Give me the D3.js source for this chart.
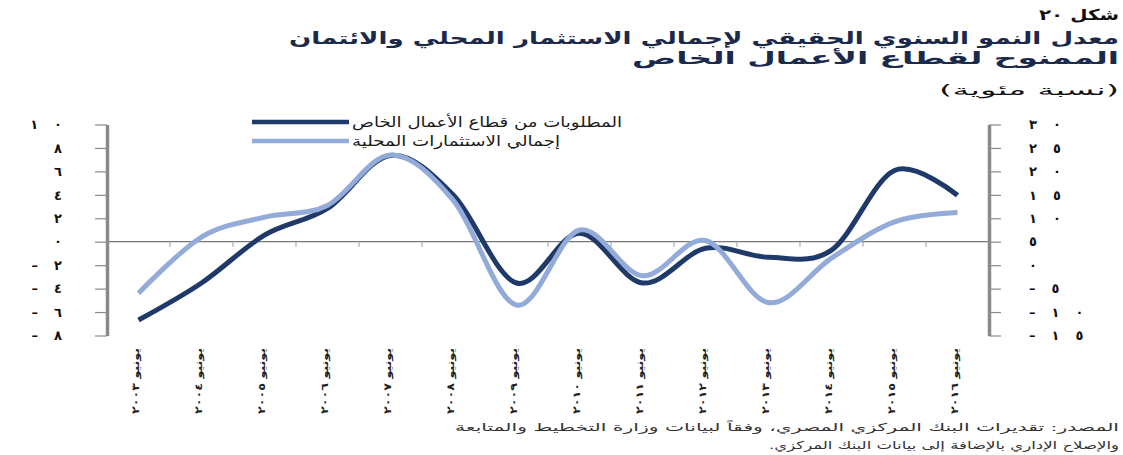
<!DOCTYPE html>
<html lang="ar">
<head>
<meta charset="utf-8">
<script src="https://cdn.jsdelivr.net/npm/d3@7"></script>
<style>
  html, body { margin: 0; padding: 0; background: #fff; }
  svg { display: block; font-family: "DejaVu Sans", "Noto Sans", sans-serif; }
</style>
</head>
<body>
<svg id="chart" width="1123" height="455"></svg>
<script>
// Fiscal years (ending June)
const categories = [
  "يونيو ٢٠٠٣", "يونيو ٢٠٠٤", "يونيو ٢٠٠٥", "يونيو ٢٠٠٦", "يونيو ٢٠٠٧",
  "يونيو ٢٠٠٨", "يونيو ٢٠٠٩", "يونيو ٢٠١٠", "يونيو ٢٠١١", "يونيو ٢٠١٢",
  "يونيو ٢٠١٣", "يونيو ٢٠١٤", "يونيو ٢٠١٥", "يونيو ٢٠١٦"
];

// Claims on the private business sector, real growth % (right axis)
const privateCredit = [-11.7, -3.8, 6.4, 12.1, 23.4, 14.9, -3.8, 6.8, -3.8, 3.6, 1.7, 3.2, 20.2, 14.9];

// Total domestic investment, real growth % (left axis)
const domesticInvestment = [-4.4, 0.4, 2.1, 3.1, 7.4, 3.5, -5.4, 1.0, -2.9, 0.1, -5.2, -1.4, 1.7, 2.5];

const leftTicks = [10, 8, 6, 4, 2, 0, -2, -4, -6, -8];
const rightTicks = [30, 25, 20, 15, 10, 5, 0, -5, -10, -15];

const titleLines = [
  "شكل ٢٠",
  "معدل النمو السنوي الحقيقي لإجمالي الاستثمار المحلي والائتمان",
  "الممنوح لقطاع الأعمال الخاص",
  "(نسبة مئوية)"
];
const legendLabels = ["المطلوبات من قطاع الأعمال الخاص", "إجمالي الاستثمارات المحلية"];
const sourceLines = [
  "المصدر: تقديرات البنك المركزي المصري، وفقاً لبيانات وزارة التخطيط والمتابعة",
  "والإصلاح الإداري بالإضافة إلى بيانات البنك المركزي."
];

const DARK = "#1f3a68";
const LIGHT = "#92abd8";
const AXIS = "#8a8a8a";

const toArabicDigits = v => String(v).replace(/-/g, "–").replace(/\d/g, d => "٠١٢٣٤٥٦٧٨٩"[d]);

const svg = d3.select("#chart");

const plot = { left: 107, right: 989, top: 124.5, bottom: 335.5 };

const x = d3.scaleBand().domain(categories).range([plot.left, plot.right]).paddingInner(0).paddingOuter(0);
const xc = c => x(c) + x.bandwidth() / 2;
const yLeft = d3.scaleLinear().domain([-8, 10]).range([plot.bottom, plot.top]);
const yRight = d3.scaleLinear().domain([-15, 30]).range([plot.bottom, plot.top]);

// ---- Title block (right aligned) ----
const RIGHT_EDGE = 1119;
const titleSpec = [
  { y: 20, size: 15, weight: "bold", fill: "#111", width: 80 },
  { y: 44, size: 17, weight: "bold", fill: "#1b2a4a", width: 830 },
  { y: 64, size: 17, weight: "bold", fill: "#1b2a4a", width: 487 },
  { y: 95, size: 14, weight: "normal", fill: "#111", width: 180 }
];
const title = svg.append("g").attr("direction", "rtl");
titleLines.forEach((t, i) => {
  const s = titleSpec[i];
  title.append("text").attr("x", RIGHT_EDGE).attr("y", s.y).attr("text-anchor", "start")
    .attr("font-size", s.size).attr("font-weight", s.weight).attr("fill", s.fill)
    .attr("textLength", s.width).attr("lengthAdjust", "spacingAndGlyphs")
    .text(t);
});

// ---- Zero line with category separators ----
svg.append("line")
  .attr("x1", plot.left).attr("x2", plot.right)
  .attr("y1", yLeft(0)).attr("y2", yLeft(0))
  .attr("stroke", "#777").attr("stroke-width", 1.2);
svg.append("g").selectAll("line")
  .data(categories.slice(1))
  .join("line")
  .attr("x1", d => x(d)).attr("x2", d => x(d))
  .attr("y1", yLeft(0) - 1).attr("y2", yLeft(0) + 5)
  .attr("stroke", "#999").attr("stroke-width", 1);

// ---- Axes ----
const leftAxis = svg.append("g")
  .attr("transform", `translate(${plot.left},0)`)
  .call(d3.axisLeft(yLeft).tickValues(leftTicks).tickSize(12).tickSizeOuter(0).tickFormat(toArabicDigits));
const rightAxis = svg.append("g")
  .attr("transform", `translate(${plot.right},0)`)
  .call(d3.axisRight(yRight).tickValues(rightTicks).tickSize(12).tickSizeOuter(0).tickFormat(toArabicDigits));

[leftAxis, rightAxis].forEach(g => {
  g.select(".domain").attr("stroke", AXIS).attr("stroke-width", 3.5);
  g.selectAll(".tick line").attr("stroke", AXIS).attr("stroke-width", 1.2);
  g.selectAll(".tick text")
    .attr("font-family", "DejaVu Sans").attr("font-size", 13).attr("font-weight", "bold")
    .attr("fill", "#111");
});
leftAxis.selectAll(".tick text").attr("x", -(plot.left - 62)).attr("text-anchor", "end");
rightAxis.selectAll(".tick text").attr("x", 40).attr("text-anchor", "start");

// Spread the characters of multi-character tick labels apart
const CHAR_GAP = 16;
svg.selectAll(".tick text").each(function () {
  const n = this.textContent.length;
  if (n > 1) {
    const w = this.getComputedTextLength();
    d3.select(this).attr("textLength", w + (n - 1) * CHAR_GAP).attr("lengthAdjust", "spacing");
  }
});

// ---- Series lines ----
const curve = d3.curveCardinal.tension(0);
const creditLine = d3.line().x((d, i) => xc(categories[i])).y(d => yRight(d)).curve(curve);
const investLine = d3.line().x((d, i) => xc(categories[i])).y(d => yLeft(d)).curve(curve);

svg.append("path").datum(privateCredit)
  .attr("d", creditLine).attr("fill", "none")
  .attr("stroke", DARK).attr("stroke-width", 5).attr("stroke-linecap", "butt").attr("stroke-linejoin", "round");
svg.append("path").datum(domesticInvestment)
  .attr("d", investLine).attr("fill", "none")
  .attr("stroke", LIGHT).attr("stroke-width", 5).attr("stroke-linecap", "butt").attr("stroke-linejoin", "round");

// ---- Legend ----
const legend = svg.append("g");
[[DARK, 122, 270], [LIGHT, 141, 208]].forEach(([color, ly, w], i) => {
  legend.append("line").attr("x1", 252).attr("x2", 349).attr("y1", ly).attr("y2", ly)
    .attr("stroke", color).attr("stroke-width", 4.5);
  legend.append("text").attr("direction", "rtl").attr("x", 352).attr("y", ly + 5)
    .attr("text-anchor", "end").attr("font-size", 14).attr("fill", "#1a1a1a")
    .attr("textLength", w).attr("lengthAdjust", "spacingAndGlyphs")
    .text(legendLabels[i]);
});

// ---- Category labels (rotated) ----
svg.append("g").selectAll("text")
  .data(categories)
  .join("text")
  .attr("transform", d => `translate(${xc(d) - 3},348) rotate(-90)`)
  .attr("text-anchor", "end")
  .attr("dominant-baseline", "central")
  .attr("font-size", 10).attr("font-weight", "bold").attr("fill", "#222")
  .attr("textLength", 66).attr("lengthAdjust", "spacingAndGlyphs")
  .text(d => d);

// ---- Source note ----
const src = svg.append("g").attr("direction", "rtl");
src.append("text").attr("x", RIGHT_EDGE).attr("y", 431).attr("text-anchor", "start")
  .attr("font-size", 11).attr("fill", "#333")
  .attr("textLength", 664).attr("lengthAdjust", "spacingAndGlyphs")
  .text(sourceLines[0]);
src.append("text").attr("x", RIGHT_EDGE).attr("y", 449).attr("text-anchor", "start")
  .attr("font-size", 11).attr("fill", "#333")
  .attr("textLength", 350).attr("lengthAdjust", "spacingAndGlyphs")
  .text(sourceLines[1]);
</script>
</body>
</html>
